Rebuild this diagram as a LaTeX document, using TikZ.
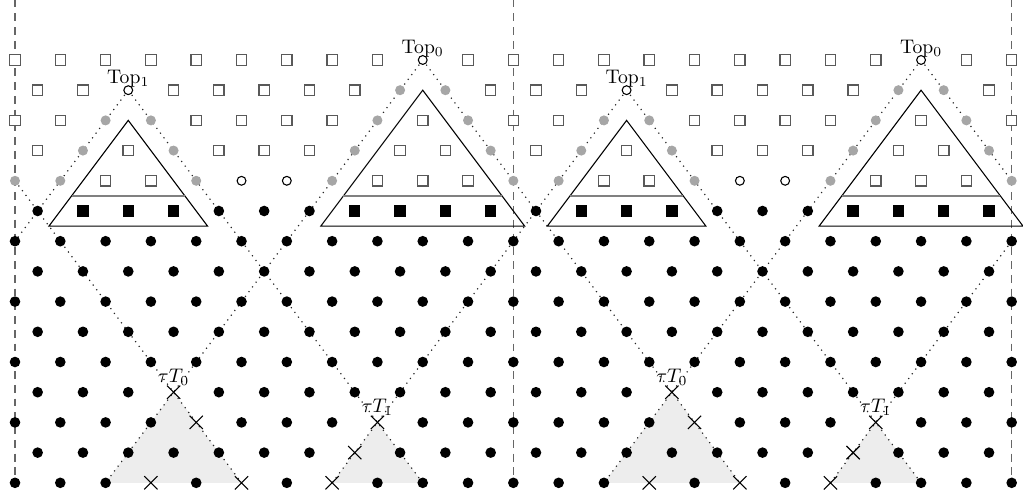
\documentclass[tikz,border=0pt]{standalone}
\usetikzlibrary{shapes.misc,backgrounds}
\def\deftype#1#2{\expandafter\def\csname mkX#1\endcsname{#2}}
\deftype{18-0}{ocirc}
\deftype{5-1}{ocirc}\deftype{17-1}{gdot}\deftype{19-1}{gdot}
\deftype{4-2}{gdot}\deftype{6-2}{gdot}\deftype{16-2}{gdot}\deftype{20-2}{gdot}
\deftype{3-3}{gdot}\deftype{7-3}{gdot}\deftype{15-3}{gdot}\deftype{21-3}{gdot}
\deftype{0-4}{gdot}\deftype{2-4}{gdot}\deftype{8-4}{gdot}\deftype{14-4}{gdot}\deftype{10-4}{ocirc}\deftype{12-4}{ocirc}
\deftype{3-5}{fsq}\deftype{5-5}{fsq}\deftype{7-5}{fsq}\deftype{15-5}{fsq}\deftype{17-5}{fsq}\deftype{19-5}{fsq}\deftype{21-5}{fsq}
\deftype{7-11}{xmk}\deftype{8-12}{xmk}\deftype{6-14}{xmk}\deftype{10-14}{xmk}\deftype{16-12}{xmk}\deftype{15-13}{xmk}\deftype{14-14}{xmk}
\tikzset{
 sq/.style={rectangle, draw=black!65, fill=white, line width=0.6pt, minimum size=5.3pt, inner sep=0pt},
 fsq/.style={rectangle, fill=black, minimum size=5.8pt, inner sep=0pt},
 bdot/.style={circle, fill=black, minimum size=5.4pt, inner sep=0pt},
 gdot/.style={circle, fill=black!35, minimum size=5.1pt, inner sep=0pt},
 ocirc/.style={circle, draw=black, fill=white, line width=0.55pt, minimum size=4.5pt, inner sep=0pt},
 xmk/.style={cross out, draw=black, line width=0.55pt, minimum size=6.2pt, inner sep=0pt},
 trace/.style={line width=0.6pt, dash pattern=on 0.6pt off 2.4pt, black!85},
 bound/.style={black!60, line width=0.8pt, dash pattern=on 4pt off 3pt},
 shadetri/.style={fill=black!7},
 tri/.style={line width=0.55pt},
 midline/.style={gray, line width=0.9pt},
 lab/.style={anchor=base, inner sep=0pt},
}
\begin{document}
\begin{tikzpicture}[x=0.405cm, y=-0.54cm]
\useasboundingbox (-0.662,-1.986) rectangle (44.5,14.43);
% lattice markers
\foreach \r in {0,...,14}{
  \foreach \i in {0,...,44}{
    \pgfmathtruncatemacro{\myp}{mod(\i+\r,2)}
    \ifnum\myp=0
      \pgfmathtruncatemacro{\mm}{mod(\i,22)}
      \ifnum\r<5 \def\mytype{sq}\else\def\mytype{bdot}\fi
      \ifcsname mkX\mm-\r\endcsname\edef\mytype{\csname mkX\mm-\r\endcsname}\fi
      \edef\tmp{\noexpand\node[\mytype] (p\i-\r) at (\i,\r) {};}
      \tmp
    \fi
  }
}
% solid triangles
\foreach \s in {0,22}{
  \draw[tri] (5+\s,2) -- (1.5+\s,5.5) -- (8.5+\s,5.5) -- cycle;
  \draw[midline] (2.5+\s,4.5) -- (7.5+\s,4.5);
  \draw[tri] (18+\s,1) -- (13.5+\s,5.5) -- (22.5+\s,5.5) -- cycle;
  \draw[midline] (14.5+\s,4.5) -- (21.5+\s,4.5);
}
% labels
\node[lab] (la) at ([yshift=3.5pt]p5-1.center) {Top$_1$};
\node[lab] (lb) at ([yshift=3.5pt]p27-1.center) {Top$_1$};
\node[lab] (lc) at ([yshift=3.5pt]p18-0.center) {Top$_0$};
\node[lab] (ld) at ([yshift=3.5pt]p40-0.center) {Top$_0$};
\node[lab] (le) at ([yshift=4.8pt]p7-11.center) {$\tau T_0$};
\node[lab] (lf) at ([yshift=4.8pt]p29-11.center) {$\tau T_0$};
\node[lab] (lg) at ([yshift=4.8pt]p16-12.center) {$\tau T_1$};
\node[lab] (lh) at ([yshift=4.8pt]p38-12.center) {$\tau T_1$};
\coordinate (d0) at (0,-2);
\coordinate (d1) at (22,-2);
\coordinate (d2) at (44,-2);
\begin{scope}[on background layer]
  \fill[shadetri] (p7-11.center) -- (p4-14.center) -- (p10-14.center) -- cycle;
  \fill[shadetri] (p16-12.center) -- (p14-14.center) -- (p18-14.center) -- cycle;
  \fill[shadetri] (p29-11.center) -- (p26-14.center) -- (p32-14.center) -- cycle;
  \fill[shadetri] (p38-12.center) -- (p36-14.center) -- (p40-14.center) -- cycle;
  \draw[bound] (d0) -- (p0-14.center);
  \draw[bound] (d1) -- (p22-14.center);
  \draw[bound] (d2) -- (p44-14.center);
  \draw[trace] (p5-1.center) -- (p0-6.center);
  \draw[trace] (p5-1.center) -- (p18-14.center);
  \draw[trace] (p18-0.center) -- (p4-14.center);
  \draw[trace] (p18-0.center) -- (p32-14.center);
  \draw[trace] (p27-1.center) -- (p14-14.center);
  \draw[trace] (p27-1.center) -- (p40-14.center);
  \draw[trace] (p40-0.center) -- (p26-14.center);
  \draw[trace] (p40-0.center) -- (p44-4.center);
  \draw[trace] (p0-4.center) -- (p10-14.center);
  \draw[trace] (p44-6.center) -- (p36-14.center);
\end{scope}
\end{tikzpicture}
\end{document}
